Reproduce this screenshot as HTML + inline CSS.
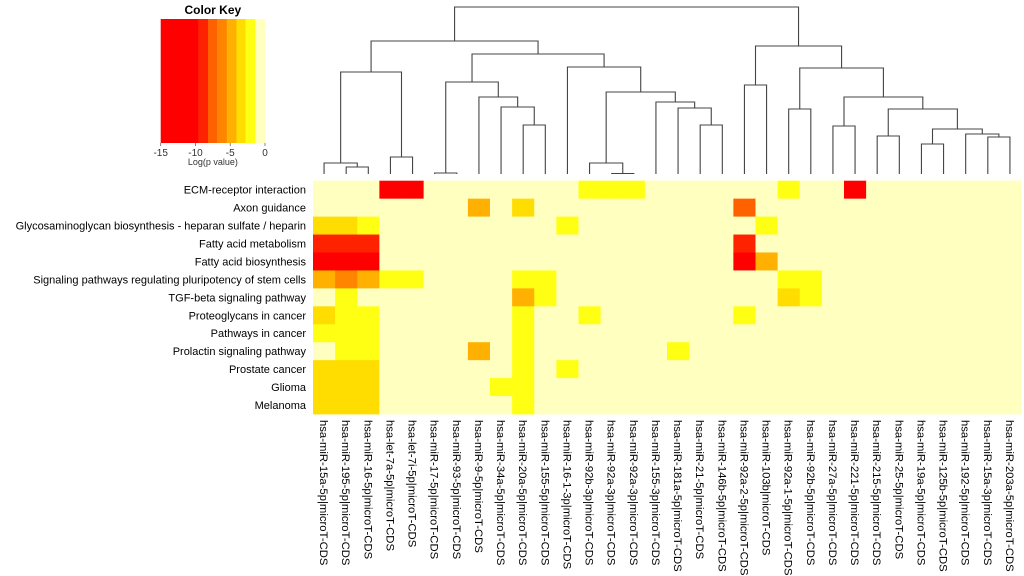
<!DOCTYPE html>
<html><head><meta charset="utf-8"><style>
html,body{margin:0;padding:0;background:#fff;}
svg{display:block;font-family:"Liberation Sans","DejaVu Sans",sans-serif;}
</style></head><body>
<svg id="chart" width="1024" height="576" viewBox="0 0 1024 576" xmlns="http://www.w3.org/2000/svg">
<g id="key"></g>
<g id="dendro"></g>
<g id="cells"></g>
<g id="rowlabels"></g>
<g id="collabels"></g>
</svg>
<script>
const columns = ["hsa-miR-15a-5p","hsa-miR-195-5p","hsa-miR-16-5p","hsa-let-7a-5p","hsa-let-7i-5p","hsa-miR-17-5p","hsa-miR-93-5p","hsa-miR-9-5p","hsa-miR-34a-5p","hsa-miR-20a-5p","hsa-miR-155-5p","hsa-miR-16-1-3p","hsa-miR-92b-3p","hsa-miR-92a-3p","hsa-miR-92a-3p","hsa-miR-155-3p","hsa-miR-181a-5p","hsa-miR-21-5p","hsa-miR-146b-5p","hsa-miR-92a-2-5p","hsa-miR-103b","hsa-miR-92a-1-5p","hsa-miR-92b-5p","hsa-miR-27a-5p","hsa-miR-221-5p","hsa-miR-215-5p","hsa-miR-25-5p","hsa-miR-19a-5p","hsa-miR-125b-5p","hsa-miR-192-5p","hsa-miR-15a-3p","hsa-miR-203a-5p"];
const rows = ["ECM-receptor interaction","Axon guidance","Glycosaminoglycan biosynthesis - heparan sulfate / heparin","Fatty acid metabolism","Fatty acid biosynthesis","Signaling pathways regulating pluripotency of stem cells","TGF-beta signaling pathway","Proteoglycans in cancer","Pathways in cancer","Prolactin signaling pathway","Prostate cancer","Glioma","Melanoma"];
const r0 = [-.5,-.5,-.5,-12,-12,-.5,-.5,-.5,-.5,-.5,-.5,-.5,-2,-2,-2,-.5,-.5,-.5,-.5,-.5,-.5,-2,-.5,-.5,-12,-.5,-.5,-.5,-.5,-.5,-.5,-.5];
const r1 = [-.5,-.5,-.5,-.5,-.5,-.5,-.5,-4.8,-.5,-3.5,-.5,-.5,-.5,-.5,-.5,-.5,-.5,-.5,-.5,-7.5,-.5,-.5,-.5,-.5,-.5,-.5,-.5,-.5,-.5,-.5,-.5,-.5];
const r2 = [-3.5,-3.5,-2,-.5,-.5,-.5,-.5,-.5,-.5,-.5,-.5,-2,-.5,-.5,-.5,-.5,-.5,-.5,-.5,-.5,-2,-.5,-.5,-.5,-.5,-.5,-.5,-.5,-.5,-.5,-.5,-.5];
const r3 = [-9,-9,-9,-.5,-.5,-.5,-.5,-.5,-.5,-.5,-.5,-.5,-.5,-.5,-.5,-.5,-.5,-.5,-.5,-9,-.5,-.5,-.5,-.5,-.5,-.5,-.5,-.5,-.5,-.5,-.5,-.5];
const r4 = [-12,-12,-12,-.5,-.5,-.5,-.5,-.5,-.5,-.5,-.5,-.5,-.5,-.5,-.5,-.5,-.5,-.5,-.5,-12,-4.5,-.5,-.5,-.5,-.5,-.5,-.5,-.5,-.5,-.5,-.5,-.5];
const r5 = [-4.8,-6,-4.8,-2,-2,-.5,-.5,-.5,-.5,-2,-2,-.5,-.5,-.5,-.5,-.5,-.5,-.5,-.5,-.5,-.5,-2,-2,-.5,-.5,-.5,-.5,-.5,-.5,-.5,-.5,-.5];
const r6 = [-.5,-2,-.5,-.5,-.5,-.5,-.5,-.5,-.5,-4.5,-2,-.5,-.5,-.5,-.5,-.5,-.5,-.5,-.5,-.5,-.5,-3.5,-2,-.5,-.5,-.5,-.5,-.5,-.5,-.5,-.5,-.5];
const r7 = [-3.5,-2,-2,-.5,-.5,-.5,-.5,-.5,-.5,-2,-.5,-.5,-2,-.5,-.5,-.5,-.5,-.5,-.5,-2,-.5,-.5,-.5,-.5,-.5,-.5,-.5,-.5,-.5,-.5,-.5,-.5];
const r8 = [-2,-2,-2,-.5,-.5,-.5,-.5,-.5,-.5,-2,-.5,-.5,-.5,-.5,-.5,-.5,-.5,-.5,-.5,-.5,-.5,-.5,-.5,-.5,-.5,-.5,-.5,-.5,-.5,-.5,-.5,-.5];
const r9 = [-.5,-2,-2,-.5,-.5,-.5,-.5,-4.8,-.5,-2,-.5,-.5,-.5,-.5,-.5,-.5,-2,-.5,-.5,-.5,-.5,-.5,-.5,-.5,-.5,-.5,-.5,-.5,-.5,-.5,-.5,-.5];
const r10 = [-3.5,-3.5,-3.5,-.5,-.5,-.5,-.5,-.5,-.5,-2,-.5,-2,-.5,-.5,-.5,-.5,-.5,-.5,-.5,-.5,-.5,-.5,-.5,-.5,-.5,-.5,-.5,-.5,-.5,-.5,-.5,-.5];
const r11 = [-3.5,-3.5,-3.5,-.5,-.5,-.5,-.5,-.5,-2,-2,-.5,-.5,-.5,-.5,-.5,-.5,-.5,-.5,-.5,-.5,-.5,-.5,-.5,-.5,-.5,-.5,-.5,-.5,-.5,-.5,-.5,-.5];
const r12 = [-3.5,-3.5,-3.5,-.5,-.5,-.5,-.5,-.5,-.5,-2,-.5,-.5,-.5,-.5,-.5,-.5,-.5,-.5,-.5,-.5,-.5,-.5,-.5,-.5,-.5,-.5,-.5,-.5,-.5,-.5,-.5,-.5];
const matrix = [r0,r1,r2,r3,r4,r5,r6,r7,r8,r9,r10,r11,r12];
const keyTicks = [-15,-10,-5,0];
const keyBreaks = [-15,-9.6,-8.2,-6.9,-5.5,-4.1,-2.8,-1.4,0];
const keyColors = ["#FF0000","#FF2200","#FF6000","#FF8400","#FFB000","#FFDD00","#FFFF14","#FFFFC0"];
const mergeA = [-2,-1,-4,2,-6,-10,-9,-8,5,-14,-13,-18,-17,-16,11,-12,9,4,-20,-22,-24,-26,-28,-31,-30,23,22,21,20,19,18];
const mergeB = [-3,1,-5,3,-7,-11,6,7,8,-15,10,-19,12,13,14,15,16,17,-21,-23,-25,-27,-29,-32,24,25,26,27,28,29,30];
const mergeH = [7,11,17,102,1,49,67,77,92,0.5,11,49,66,72,82,107,120,133,89,65,48,38,30,37,40,45,65,77,106,128,167];

const NS="http://www.w3.org/2000/svg";
function mk(tag, attrs, parent){const e=document.createElementNS(NS,tag);for(const k in attrs)e.setAttribute(k,attrs[k]);parent.appendChild(e);return e;}
const X0=313, X1=1021, Y0=180.7, Y1=414;
const cw=(X1-X0)/columns.length, rh=(Y1-Y0)/rows.length;
const xCol=i=>X0+cw*i, yRow=r=>Y0+rh*r;
function colorOf(v){for(let i=1;i<keyBreaks.length;i++){if(v<keyBreaks[i])return keyColors[i-1];}return keyColors[keyColors.length-1];}

const key=document.getElementById('key');
const kx0=160.7,kx1=265,ky0=19,ky1=143;
const kX=v=>kx0+(v+15)/15*(kx1-kx0);
const kt=mk('text',{x:(kx0+kx1)/2,y:14,'text-anchor':'middle','font-size':'12','font-weight':'bold',fill:'#000'},key);
kt.textContent='Color Key';


for(let i=0;i<keyColors.length;i++){
  const r=mk('rect',{x:kX(keyBreaks[i]),y:ky0,width:kX(keyBreaks[i+1])-kX(keyBreaks[i])+0.3,height:ky1-ky0,fill:keyColors[i]},key);
  
  
}
keyTicks.forEach(t=>{
  mk('line',{x1:kX(t),x2:kX(t),y1:ky1,y2:ky1+3,stroke:'#666','stroke-width':0.8},key);
  const tx=mk('text',{x:kX(t),y:ky1+13,'text-anchor':'middle','font-size':'10',fill:'#333'},key);
  tx.textContent=t;
  
  
});
const kl=mk('text',{x:(kx0+kx1)/2,y:ky1+22,'text-anchor':'middle','font-size':'9',fill:'#333'},key);
kl.textContent='Log(p value)';



const cells=document.getElementById('cells');
mk('rect',{x:X0,y:Y0,width:X1-X0,height:Y1-Y0,fill:'#FFFFC0'},cells);
matrix.forEach((row,r)=>row.forEach((v,c)=>{
  const e=mk('rect',{x:xCol(c),y:yRow(r),width:cw+0.4,height:rh+0.4,fill:colorOf(v)},cells);
  
  
}));

const rl=document.getElementById('rowlabels');
rows.forEach((t,r)=>{
  const e=mk('text',{x:306,y:yRow(r)+rh/2+4,'text-anchor':'end','font-size':'11',fill:'#000'},rl);
  e.textContent=t;
  
  
});
const cl=document.getElementById('collabels');
columns.forEach((t,c)=>{
  const cx=xCol(c)+cw/2;
  const e=mk('text',{x:0,y:0,transform:`translate(${cx-4},420) rotate(90)`,'font-size':'11.3',fill:'#000'},cl);
  e.textContent=t+'|microT-CDS';
  
  
});

const dg=document.getElementById('dendro');
const base=174;
const nx=[], ny=[];
function pos(id){ if(id<0){return [xCol(-id-1)+cw/2, base];} return [nx[id-1], ny[id-1]]; }
for(let m=0;m<mergeA.length;m++){
  const [ax,ay]=pos(mergeA[m]); const [bx,by]=pos(mergeB[m]);
  const y=base-mergeH[m];
  const p=mk('path',{d:`M${ax},${ay}V${y}H${bx}V${by}`,fill:'none',stroke:'#444','stroke-width':1.1},dg);
  
  
  nx.push((ax+bx)/2); ny.push(y);
}
</script>
</body></html>
